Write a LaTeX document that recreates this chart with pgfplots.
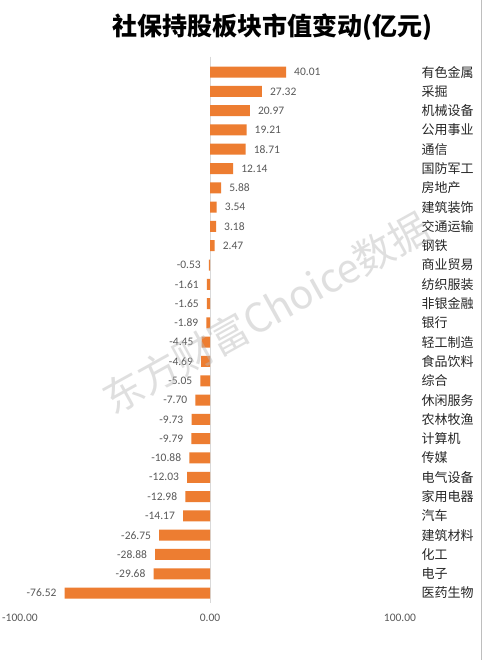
\documentclass[border=0pt]{standalone}
\usepackage{fontspec}
\setmainfont{Carlito}
\newfontfamily\cjk{Noto Sans CJK SC}
\usepackage{pgfplots}
\pgfplotsset{compat=1.18}
\definecolor{barorange}{HTML}{ED7D31}
\definecolor{lblgray}{HTML}{595959}
\definecolor{zeroline}{HTML}{D9D9D9}
\definecolor{catblack}{HTML}{262626}
\begin{document}
\begin{tikzpicture}
\fill[white] (0,0) rectangle (483pt,660pt);
\path[use as bounding box] (0,0) rectangle (483pt,660pt);
\node[font={\cjk\bfseries\fontsize{25}{28}\selectfont}, text=black] at (272pt,633pt) {社保持股板块市值变动(亿元)};
\draw[color=zeroline!70!gray, line width=0.6pt] (481pt,0) -- (481pt,660pt);
\begin{axis}[
  at={(20pt,57.3pt)}, anchor=south west,
  scale only axis, width=380pt, height=540.3pt,
  xmin=-100, xmax=100, ymin=-0.5, ymax=27.5,
  y dir=reverse,
  axis line style={draw=none},
  major tick length=0pt,
  xtick={-100,0,100},
  xticklabels={-100.00,0.00,100.00},
  xticklabel style={font=\fontsize{11.5}{13}\selectfont, text=lblgray, inner sep=0pt, yshift=-11pt},
  ytick={0,...,27},
  yticklabel pos=right,
  yticklabels={有色金属,采掘,机械设备,公用事业,通信,国防军工,房地产,建筑装饰,交通运输,钢铁,商业贸易,纺织服装,非银金融,银行,轻工制造,食品饮料,综合,休闲服务,农林牧渔,计算机,传媒,电气设备,家用电器,汽车,建筑材料,化工,电子,医药生物},
  yticklabel style={font={\cjk\fontsize{13}{15}\selectfont}, text=catblack, anchor=west, inner sep=0pt, xshift=21.5pt},
  xbar, bar width=11pt,
  nodes near coords={\pgfmathprintnumber[fixed,fixed zerofill,precision=2,assume math mode=true]{\pgfplotspointmeta}},
  every node near coord/.append style={font=\fontsize{11.5}{13}\selectfont, text=lblgray, inner xsep=8pt},
  clip=false,
]
\draw[color=zeroline, line width=0.8pt] (axis cs:0,-0.8) -- (axis cs:0,27.5);
\addplot[fill=barorange, draw=none] table[x=v, y=i] {
i v
0 40.01
1 27.32
2 20.97
3 19.21
4 18.71
5 12.14
6 5.88
7 3.54
8 3.18
9 2.47
10 -0.53
11 -1.61
12 -1.65
13 -1.89
14 -4.45
15 -4.69
16 -5.05
17 -7.70
18 -9.73
19 -9.79
20 -10.88
21 -12.03
22 -12.98
23 -14.17
24 -26.75
25 -28.88
26 -29.68
27 -76.52
};
\end{axis}
\node[font={\cjk\fontsize{40}{44}\selectfont}, text=gray!55, opacity=0.45, rotate=29] at (266pt,347pt) {东方财富Choice数据};
\end{tikzpicture}
\end{document}
